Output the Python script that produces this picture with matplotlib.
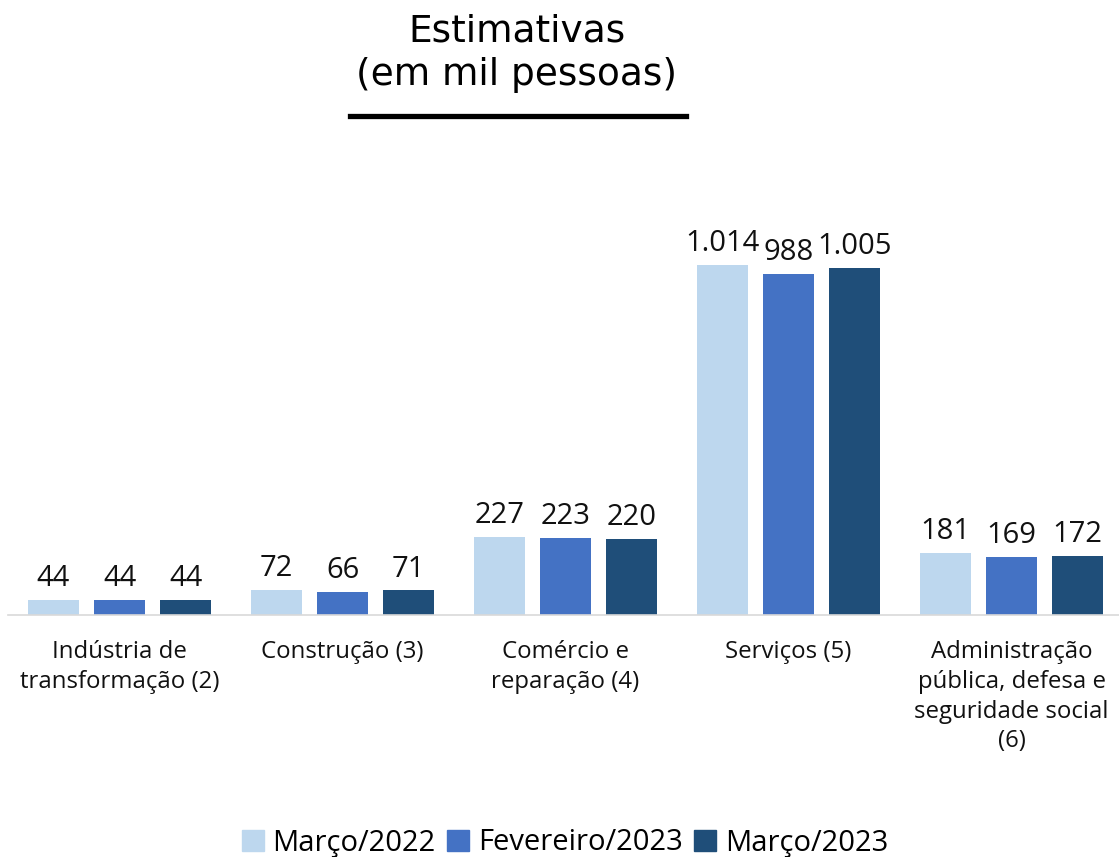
import matplotlib
matplotlib.use("Agg")
import matplotlib.pyplot as plt
import numpy as np
from matplotlib.patches import Patch

categories = ["Indústria de\ntransformação (2)", "Construção (3)", "Comércio e\nreparação (4)",
              "Serviços (5)", "Administração\npública, defesa e\nseguridade social\n(6)"]
series_names = ["Março/2022", "Fevereiro/2023", "Março/2023"]
mar2022 = [44, 72, 227, 1014, 181]
fev2023 = [44, 66, 223, 988, 169]
mar2023 = [44, 71, 220, 1005, 172]
colors = ["#BDD7EE", "#4472C4", "#1F4E79"]

def fmt(v):
    return f"{v:,}".replace(",", ".")

plt.rcParams['font.family'] = ['Open Sans', 'DejaVu Sans']

fig = plt.figure(figsize=(11.19, 8.57), dpi=100)
W, H = 1119, 857
ax_left, ax_right = 8, 1123
base_px, top_px = 615, 200
ax = fig.add_axes([ax_left / W, (H - base_px) / H, (ax_right - ax_left) / W, (base_px - top_px) / H])
px_per_unit = 350 / 1014
ax.set_ylim(0, (base_px - top_px) / px_per_unit)
ax.set_xlim(-0.5, len(categories) - 0.5)

x = np.arange(len(categories))
bw = 0.233
pitch = 0.296
for i, (vals, c) in enumerate(zip([mar2022, fev2023, mar2023], colors)):
    xs = x + (i - 1) * pitch
    ax.bar(xs, vals, width=bw, color=c, label=series_names[i])
    for xi, v in zip(xs, vals):
        ax.annotate(fmt(v), (xi, v), xytext=(0, 5), textcoords="offset points",
                    ha="center", va="bottom", fontsize=21, color="#111111")

for s in ["top", "right", "left"]:
    ax.spines[s].set_visible(False)
ax.spines["bottom"].set_color("#D9D9D9")
ax.spines["bottom"].set_linewidth(1.2)
ax.set_yticks([])
ax.set_xticks(x)
ax.set_xticklabels(categories, fontsize=17.3, color="#111111", linespacing=1.32)
ax.tick_params(axis="x", length=0, pad=18)

fig.text(517 / W, 1 - 32 / H, "Estimativas", ha="center", va="center", fontsize=27,
         family="DejaVu Sans", color="black")
fig.text(517 / W, 1 - 75 / H, "(em mil pessoas)", ha="center", va="center", fontsize=27,
         family="DejaVu Sans", color="black")
fig.add_artist(plt.Line2D([350 / W, 686 / W], [1 - 116 / H, 1 - 116 / H], color="black", lw=3.8,
                          transform=fig.transFigure))

handles = [Patch(color=c) for c in colors]
fig.legend(handles, series_names, loc="center", bbox_to_anchor=(565 / W, 1 - 843 / H), ncol=3,
           frameon=False, fontsize=21, handlelength=0.75, handleheight=0.75, handletextpad=0.3,
           columnspacing=0.4)

fig.savefig("out.png", dpi=100)
